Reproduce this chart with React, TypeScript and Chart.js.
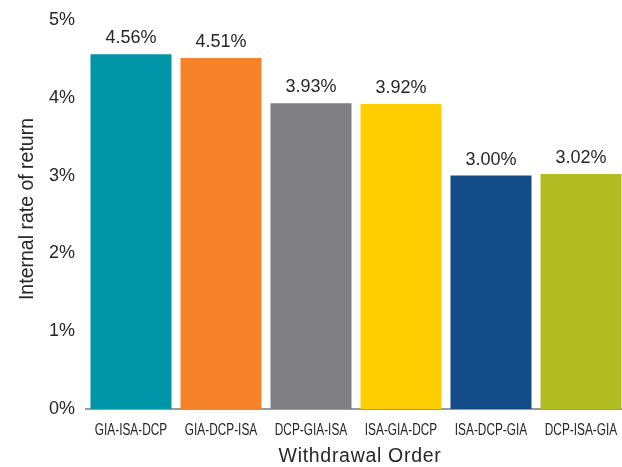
import React, { useEffect, useRef } from "react";
import { Chart, registerables } from "chart.js";

Chart.register(...registerables);

const categories = ["GIA-ISA-DCP", "GIA-DCP-ISA", "DCP-GIA-ISA", "ISA-GIA-DCP", "ISA-DCP-GIA", "DCP-ISA-GIA"];
const values = [4.56, 4.51, 3.93, 3.92, 3.0, 3.02];
const barColors = ["#0096A8", "#F68329", "#808084", "#FFCD00", "#134C86", "#B2BD24"];
const yTicks = [0, 1, 2, 3, 4, 5];
const xTitle = "Withdrawal Order";
const yTitle = "Internal rate of return";

const FONT = '"Liberation Sans", Arial, sans-serif';
const TEXT = "#262626";

const labelsPlugin = {
  id: "labelsPlugin",
  afterDatasetsDraw(chart: any) {
    const ctx = chart.ctx;
    const meta = chart.getDatasetMeta(0);
    const xs = chart.scales.x;
    const area = chart.chartArea;
    ctx.save();
    // value labels
    ctx.font = "18px " + FONT;
    ctx.fillStyle = TEXT;
    ctx.textAlign = "center";
    ctx.textBaseline = "alphabetic";
    meta.data.forEach((el: any, i: number) => {
      ctx.fillText(values[i].toFixed(2) + "%", el.x, el.y - 11);
    });
    // category labels (condensed)
    ctx.font = "16px " + FONT;
    categories.forEach((c, i) => {
      const x = xs.getPixelForTick(i);
      ctx.save();
      ctx.translate(x, area.bottom + 26);
      ctx.scale(0.74, 1);
      ctx.fillText(c, 0, 0);
      ctx.restore();
    });
    // x title
    ctx.font = "19.5px " + FONT;
    (ctx as any).letterSpacing = "0.7px";
    ctx.fillText(xTitle, (area.left + area.right) / 2 + 4, 462);
    (ctx as any).letterSpacing = "0px";
    // y title
    ctx.font = "19.5px " + FONT;
    ctx.save();
    ctx.translate(33, 209);
    ctx.rotate(-Math.PI / 2);
    ctx.fillText(yTitle, 0, 0);
    ctx.restore();
    ctx.restore();
  },
};

export default function App() {
  const ref = useRef<HTMLCanvasElement>(null);
  useEffect(() => {
    if (!ref.current) return;
    const chart = new Chart(ref.current, {
      type: "bar",
      data: {
        labels: categories,
        datasets: [
          {
            data: values,
            backgroundColor: barColors,
            barPercentage: 0.9,
            categoryPercentage: 1,
          },
        ],
      },
      options: {
        animation: false,
        responsive: false,
        maintainAspectRatio: false,
        layout: { padding: { top: 20, left: 0, right: 0, bottom: 0 } },
        plugins: { legend: { display: false }, tooltip: { enabled: false } },
        scales: {
          x: {
            grid: { display: false, drawTicks: false },
            border: { display: true, color: "#9a9a9a", width: 2 },
            ticks: { display: false },
            afterFit(scale: any) {
              scale.height = 58;
              scale.paddingLeft = 0;
              scale.paddingRight = 0;
            },
          },
          y: {
            min: 0,
            max: 5,
            grid: { display: false, drawTicks: false },
            border: { display: false },
            afterBuildTicks(scale: any) {
              scale.ticks = yTicks.map((v) => ({ value: v }));
            },
            ticks: {
              color: TEXT,
              font: { family: FONT, size: 18 },
              padding: 11,
              callback: (v: any) => v + "%",
            },
            afterFit(scale: any) {
              scale.width = 86;
              scale.paddingTop = 0;
              scale.paddingBottom = 0;
            },
          },
        },
      },
      plugins: [labelsPlugin],
    });
    return () => chart.destroy();
  }, []);
  return (
    <div style={{ position: "fixed", left: 0, top: 0, width: 622, height: 467, overflow: "hidden", background: "#fff" }}>
      <canvas ref={ref} width={626} height={467} style={{ width: 626, height: 467, display: "block" }} />
    </div>
  );
}
